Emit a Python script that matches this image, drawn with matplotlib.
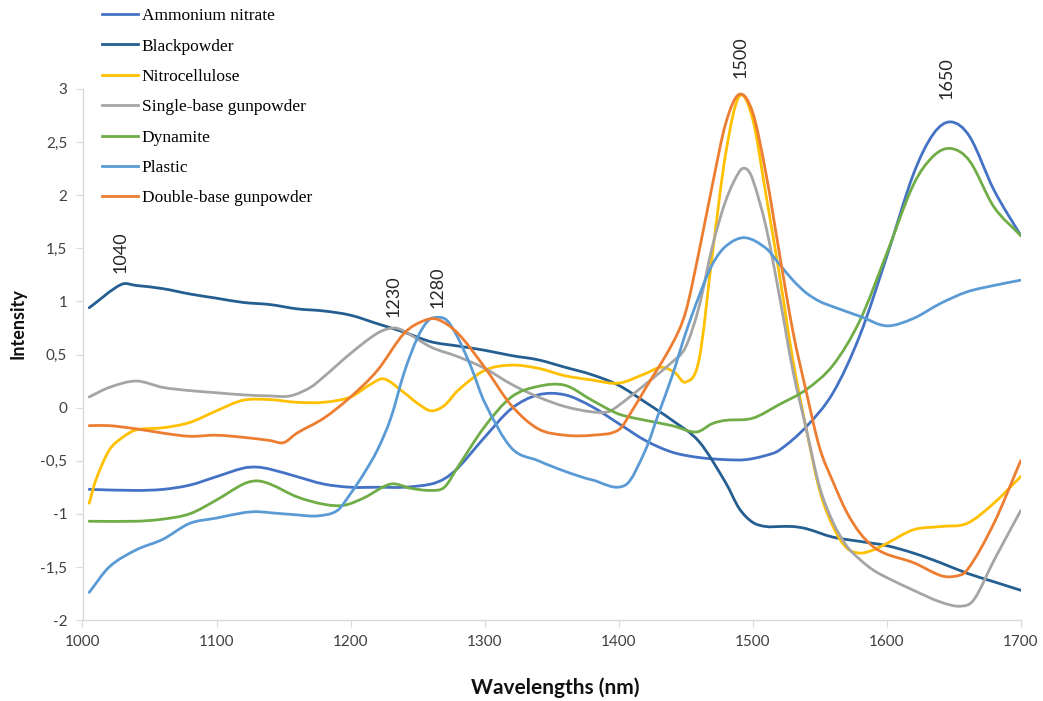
import numpy as np
import matplotlib.pyplot as plt
from matplotlib.path import Path
from matplotlib.patches import PathPatch
from matplotlib.lines import Line2D

# Ammonium nitrate
an_x = [1005, 1040, 1060, 1080, 1100, 1120, 1130, 1140, 1160, 1180, 1200, 1220, 1240, 1260, 1270, 1280,
        1300, 1320, 1340, 1360, 1380, 1400, 1420, 1440, 1460, 1480, 1495, 1510, 1520, 1540, 1560, 1580,
        1600, 1620, 1635, 1648, 1662, 1680, 1700]
an_y = [-0.77, -0.78, -0.77, -0.73, -0.65, -0.57, -0.56, -0.58, -0.65, -0.72, -0.75, -0.75, -0.75, -0.72, -0.67, -0.57,
        -0.28, -0.01, 0.12, 0.12, 0.01, -0.15, -0.31, -0.42, -0.47, -0.49, -0.49, -0.45, -0.40, -0.18, 0.14, 0.68,
        1.42, 2.20, 2.58, 2.69, 2.55, 2.05, 1.62]

# Blackpowder
bp_x = [1005, 1029, 1040, 1060, 1080, 1100, 1120, 1140, 1160, 1180, 1200, 1220, 1240, 1260, 1280, 1300,
        1320, 1340, 1360, 1380, 1400, 1420, 1440, 1460, 1480, 1490, 1500, 1510, 1520, 1530, 1540, 1560,
        1580, 1600, 1620, 1640, 1660, 1680, 1700]
bp_y = [0.94, 1.16, 1.15, 1.12, 1.07, 1.03, 0.99, 0.97, 0.93, 0.91, 0.87, 0.79, 0.71, 0.62, 0.58, 0.54,
        0.49, 0.45, 0.38, 0.31, 0.21, 0.05, -0.12, -0.32, -0.71, -0.95, -1.08, -1.12, -1.12, -1.12, -1.14, -1.22,
        -1.26, -1.30, -1.37, -1.46, -1.56, -1.64, -1.72]

# Nitrocellulose
nc_x = [1005, 1010, 1020, 1030, 1040, 1060, 1080, 1100, 1120, 1140, 1160, 1180, 1200, 1215, 1225, 1240,
        1250, 1260, 1270, 1280, 1300, 1320, 1340, 1360, 1380, 1400, 1420, 1432, 1442, 1450, 1460, 1470,
        1480, 1490, 1500, 1510, 1520, 1530, 1540, 1550, 1560, 1570, 1580, 1590, 1600, 1620, 1640, 1660,
        1680, 1700]
nc_y = [-0.90, -0.68, -0.40, -0.28, -0.21, -0.19, -0.14, -0.03, 0.07, 0.075, 0.05, 0.05, 0.10, 0.22, 0.27, 0.14,
        0.04, -0.03, 0.02, 0.16, 0.35, 0.40, 0.37, 0.30, 0.26, 0.23, 0.32, 0.38, 0.33, 0.24, 0.45, 1.45,
        2.40, 2.93, 2.72, 2.00, 1.25, 0.45, -0.20, -0.78, -1.12, -1.32, -1.37, -1.34, -1.28, -1.15, -1.12, -1.09,
        -0.90, -0.65]

# Single-base gunpowder
sb_x = [1005, 1020, 1040, 1060, 1080, 1100, 1120, 1140, 1155, 1170, 1180, 1200, 1220, 1232, 1240, 1260,
        1280, 1300, 1320, 1340, 1360, 1380, 1392, 1400, 1420, 1440, 1450, 1460, 1470, 1480, 1490, 1495,
        1500, 1510, 1520, 1530, 1540, 1550, 1560, 1570, 1580, 1590, 1600, 1620, 1640, 1655, 1665, 1680,
        1700]
sb_y = [0.10, 0.19, 0.25, 0.19, 0.16, 0.14, 0.12, 0.11, 0.11, 0.19, 0.29, 0.51, 0.70, 0.75, 0.72, 0.57,
        0.48, 0.37, 0.22, 0.10, 0.01, -0.04, -0.04, 0.02, 0.22, 0.43, 0.57, 0.95, 1.52, 1.95, 2.22, 2.25,
        2.15, 1.70, 1.05, 0.35, -0.20, -0.75, -1.08, -1.30, -1.43, -1.53, -1.60, -1.72, -1.83, -1.87, -1.81, -1.44,
        -0.97]

# Dynamite
dy_x = [1005, 1040, 1060, 1080, 1100, 1120, 1130, 1140, 1160, 1180, 1195, 1210, 1230, 1245, 1260, 1270,
        1280, 1300, 1320, 1340, 1360, 1380, 1400, 1420, 1440, 1458, 1470, 1480, 1500, 1520, 1540, 1560,
        1580, 1600, 1620, 1635, 1648, 1662, 1680, 1700]
dy_y = [-1.07, -1.07, -1.05, -1.00, -0.87, -0.72, -0.69, -0.72, -0.84, -0.91, -0.92, -0.85, -0.72, -0.76, -0.78, -0.75,
        -0.56, -0.18, 0.10, 0.20, 0.21, 0.07, -0.06, -0.12, -0.17, -0.23, -0.15, -0.12, -0.10, 0.03, 0.17, 0.40,
        0.82, 1.45, 2.10, 2.37, 2.44, 2.32, 1.89, 1.62]

# Plastic
pl_x = [1005, 1020, 1040, 1060, 1080, 1100, 1120, 1130, 1140, 1160, 1175, 1190, 1200, 1210, 1220, 1230,
        1240, 1250, 1258, 1265, 1272, 1280, 1290, 1300, 1320, 1340, 1360, 1380, 1405, 1420, 1430, 1440,
        1450, 1460, 1470, 1480, 1494, 1510, 1520, 1530, 1540, 1550, 1560, 1580, 1600, 1620, 1640, 1660,
        1680, 1700]
pl_y = [-1.74, -1.50, -1.34, -1.24, -1.09, -1.04, -0.99, -0.98, -0.99, -1.01, -1.02, -0.97, -0.81, -0.62, -0.40, -0.10,
        0.33, 0.66, 0.82, 0.85, 0.82, 0.66, 0.38, 0.05, -0.38, -0.50, -0.60, -0.68, -0.73, -0.40, -0.05, 0.30,
        0.70, 1.05, 1.35, 1.52, 1.60, 1.50, 1.35, 1.20, 1.08, 1.00, 0.95, 0.86, 0.77, 0.84, 0.98, 1.09,
        1.15, 1.20]

# Double-base gunpowder
db_x = [1005, 1020, 1040, 1060, 1080, 1100, 1120, 1140, 1150, 1160, 1180, 1200, 1220, 1240, 1255, 1265,
        1280, 1300, 1320, 1340, 1360, 1380, 1400, 1410, 1420, 1440, 1450, 1460, 1470, 1480, 1490, 1500,
        1510, 1520, 1530, 1540, 1550, 1560, 1570, 1580, 1590, 1600, 1620, 1640, 1650, 1660, 1680, 1700]
db_y = [-0.17, -0.17, -0.20, -0.24, -0.27, -0.26, -0.28, -0.31, -0.33, -0.24, -0.10, 0.10, 0.35, 0.70, 0.82, 0.83,
        0.70, 0.38, 0.02, -0.20, -0.26, -0.26, -0.21, -0.03, 0.18, 0.60, 0.90, 1.47, 2.10, 2.68, 2.95, 2.78,
        2.20, 1.45, 0.72, 0.15, -0.38, -0.70, -0.98, -1.18, -1.31, -1.38, -1.46, -1.58, -1.59, -1.53, -1.09, -0.50]

names = ["Ammonium nitrate", "Blackpowder", "Nitrocellulose", "Single-base gunpowder",
         "Dynamite", "Plastic", "Double-base gunpowder"]
colors = ["#4472C4", "#255E91", "#FFC000", "#A5A5A5", "#70AD47", "#5B9BD5", "#ED7D31"]
series = [(an_x, an_y), (bp_x, bp_y), (nc_x, nc_y), (sb_x, sb_y),
          (dy_x, dy_y), (pl_x, pl_y), (db_x, db_y)]

peak_labels = ["1040", "1230", "1280", "1500", "1650"]
peak_x = [1028, 1232, 1265, 1491, 1645]
peak_y = [1.27, 0.85, 0.94, 3.10, 2.91]


# smoothed line like excel: cubic bezier through the points
def smooth_path(x, y):
    x = np.asarray(x, float)
    y = np.asarray(y, float)
    n = len(x)
    m = np.zeros(n)
    m[1:-1] = (y[2:] - y[:-2]) / (x[2:] - x[:-2])
    m[0] = (y[1] - y[0]) / (x[1] - x[0])
    m[-1] = (y[-1] - y[-2]) / (x[-1] - x[-2])
    verts = [(x[0], y[0])]
    codes = [Path.MOVETO]
    for i in range(n - 1):
        h = x[i + 1] - x[i]
        verts.append((x[i] + h / 3, y[i] + m[i] * h / 3))
        verts.append((x[i + 1] - h / 3, y[i + 1] - m[i + 1] * h / 3))
        verts.append((x[i + 1], y[i + 1]))
        codes += [Path.CURVE4] * 3
    return Path(verts, codes)


fig = plt.figure(figsize=(10.43, 7.01), dpi=100)
ax = fig.add_axes([82.5 / 1043, 1 - 620 / 701, (1020.7 - 82.5) / 1043, (620 - 89) / 701])

for (sx, sy), c in zip(series, colors):
    ax.add_patch(PathPatch(smooth_path(sx, sy), fill=False, edgecolor=c, lw=2.0,
                           capstyle='round', joinstyle='round'))

ax.set_xlim(1000, 1700)
ax.set_ylim(-2, 3)
ax.set_xticks(np.arange(1000, 1701, 100))
yt = np.arange(-2, 3.01, 0.5)
ax.set_yticks(yt)
ax.set_yticklabels([("%g" % v).replace(".", ",") for v in yt])
for s in ["top", "right"]:
    ax.spines[s].set_visible(False)
for s in ["left", "bottom"]:
    ax.spines[s].set_color("#D9D9D9")
    ax.spines[s].set_linewidth(1.0)
ax.tick_params(direction="out", length=5, color="#D9D9D9", labelcolor="#404040",
               labelsize=11, pad=6)
for lab in ax.get_xticklabels() + ax.get_yticklabels():
    lab.set_family("Lato")

for t, px, py in zip(peak_labels, peak_x, peak_y):
    ax.text(px, py, t, rotation=90, ha="center", va="bottom", fontsize=13,
            family="Lato", color="#262626", clip_on=False)

handles = [Line2D([], [], color=c, lw=2.0) for c in colors]
fig.legend(handles, names, loc="upper left", bbox_to_anchor=(102 / 1043, 1 - 8 / 701),
           frameon=False, borderpad=0, borderaxespad=0, handlelength=2.1,
           handletextpad=0.2, labelspacing=0.82,
           prop={"family": "Liberation Serif", "size": 12.5})

fig.text(18 / 1043, 1 - 324 / 701, "Intensity", rotation=90, ha="center", va="center",
         fontsize=13, fontweight="bold", family="Lato", color="#111111")
fig.text(555 / 1043, 1 - 688 / 701, "Wavelengths (nm)", ha="center", va="center",
         fontsize=15, fontweight="bold", family="Lato", color="#111111")

fig.savefig("out.png", dpi=100)
